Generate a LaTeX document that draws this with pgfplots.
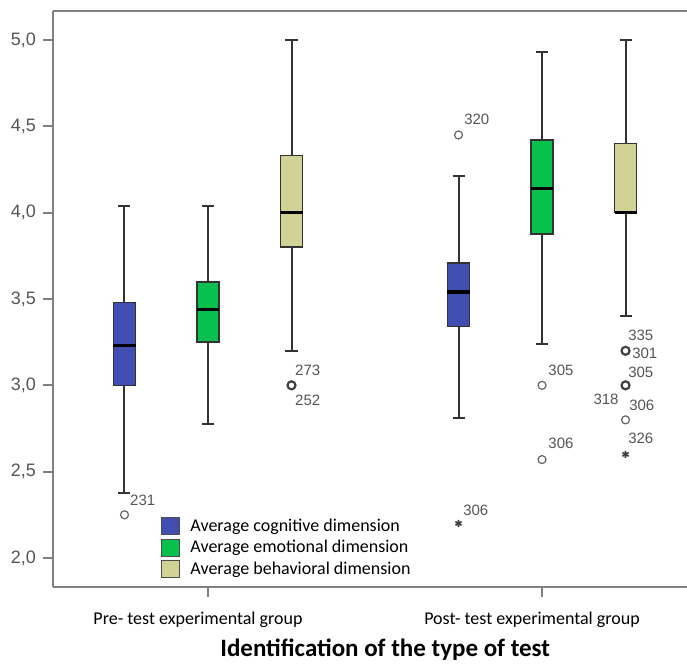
\documentclass[border=0pt]{standalone}
\usepackage{pgfplots}
\pgfplotsset{compat=1.18}
\usepackage{fontspec}
\setmainfont{Carlito}
\newfontfamily\arialf{Liberation Sans}

\definecolor{cogblue}{RGB}{63,78,176}
\definecolor{emogreen}{RGB}{8,192,76}
\definecolor{behtan}{RGB}{211,210,150}
\definecolor{frame}{RGB}{128,128,128}
\definecolor{lbl}{RGB}{85,85,85}

\tikzset{case/.style={font=\arialf\fontsize{7.5}{8}\selectfont, text=lbl, anchor=west, inner sep=0pt}}
\pgfplotsset{
  whisk/.style={draw=black!80, line width=1pt, forget plot, mark=none},
  boxst/.style={draw=black!80, line width=0.8pt, forget plot, mark=none},
  medst/.style={draw=black, line width=1.6pt, forget plot, mark=none},
}
% x, lower whisker, Q1, median, Q3, upper whisker, colour
\newcommand{\spssbox}[7]{%
  \pgfmathsetmacro{\bxl}{#1-0.033}\pgfmathsetmacro{\bxr}{#1+0.033}%
  \pgfmathsetmacro{\cpl}{#1-0.018}\pgfmathsetmacro{\cpr}{#1+0.018}%
  \addplot[whisk] coordinates {(#1,#2) (#1,#6)};
  \addplot[whisk] coordinates {(\cpl,#2) (\cpr,#2)};
  \addplot[whisk] coordinates {(\cpl,#6) (\cpr,#6)};
  \addplot[boxst, fill=#7] coordinates {(\bxl,#3) (\bxr,#3) (\bxr,#5) (\bxl,#5)} -- cycle;
  \addplot[medst] coordinates {(\bxl,#4) (\bxr,#4)};
}

\begin{document}
\begin{tikzpicture}
\begin{axis}[
  scale only axis,
  width=317pt, height=288pt,
  xmin=0.536, xmax=2.434,
  ymin=1.832, ymax=5.168,
  axis x line*=box, axis y line*=left,
  axis line style={draw=frame, line width=1pt},
  tick align=outside,
  major tick length=5pt,
  tick style={draw=frame, line width=1pt},
  xtick={1,2}, xtick pos=bottom,
  xticklabels={Pre- test experimental group, Post- test experimental group},
  xticklabel style={font=\fontsize{9}{10}\selectfont, yshift=-4pt, xshift=-5pt},
  ytick={2,2.5,...,5},
  yticklabel style={/pgf/number format/fixed, /pgf/number format/fixed zerofill, /pgf/number format/precision=1, /pgf/number format/use comma, /pgf/number format/assume math mode=true,
    font=\arialf\fontsize{9}{10}\selectfont, text=lbl},
  legend style={draw=none, fill=none, at={(axis cs:0.84,2.27)}, anchor=north west,
    font=\fontsize{9}{9}\selectfont, row sep=0pt,
    nodes={inner sep=1.5pt}},
  legend cell align=left,
  legend image code/.code={\draw[#1, line width=0.5pt] (0pt,-4pt) rectangle (9pt,4.5pt);
    \path[draw=none, fill=none] (0pt,0pt) -- (13pt,0pt);},
  clip=false,
]
% pre-test
\spssbox{0.75}{2.375}{3.0}{3.23}{3.48}{4.04}{cogblue}
\spssbox{1.0}{2.775}{3.25}{3.44}{3.60}{4.04}{emogreen}
\spssbox{1.25}{3.20}{3.80}{4.0}{4.33}{5.0}{behtan}
% post-test
\spssbox{1.75}{2.81}{3.34}{3.54}{3.71}{4.21}{cogblue}
\spssbox{2.0}{3.24}{3.875}{4.14}{4.42}{4.93}{emogreen}
\spssbox{2.25}{3.40}{4.0}{4.0}{4.40}{5.0}{behtan}

% outliers
\addplot[only marks, mark=o, mark size=2pt, draw=black!60, line width=0.6pt, forget plot]
  coordinates {(0.75,2.25) (1.75,4.45) (2.0,3.0) (2.0,2.57) (2.25,2.80)};
\addplot[only marks, mark=o, mark size=2pt, draw=black!75, line width=1.1pt, forget plot]
  coordinates {(1.25,3.0) (2.25,3.0) (2.25,3.2)};
\addplot[only marks, mark=asterisk, mark size=1.8pt, draw=black!75, line width=0.8pt, forget plot]
  coordinates {(1.75,2.2) (2.25,2.6)};

\node[case] at (axis cs:0.766,2.336) {231};
\node[case] at (axis cs:1.260,3.089) {273};
\node[case] at (axis cs:1.260,2.915) {252};
\node[case] at (axis cs:1.766,4.542) {320};
\node[case] at (axis cs:1.763,2.278) {306};
\node[case] at (axis cs:2.018,3.089) {305};
\node[case] at (axis cs:2.018,2.666) {306};
\node[case] at (axis cs:2.257,3.292) {335};
\node[case] at (axis cs:2.269,3.187) {301};
\node[case] at (axis cs:2.257,3.077) {305};
\node[case] at (axis cs:2.153,2.921) {318};
\node[case] at (axis cs:2.260,2.886) {306};
\node[case] at (axis cs:2.257,2.695) {326};

\node[anchor=base, font=\fontsize{12.5}{14}\selectfont\bfseries, inner sep=0pt, yshift=-35pt]
  at (rel axis cs:0.524,0) {Identification of the type of test};

\addlegendimage{fill=cogblue, draw=black!70}
\addlegendimage{fill=emogreen, draw=black!70}
\addlegendimage{fill=behtan, draw=black!70}
\legend{Average cognitive dimension, Average emotional dimension, Average behavioral dimension}

\coordinate (a) at (rel axis cs:0,0);
\coordinate (b) at (rel axis cs:1,1);
\end{axis}
\pgfresetboundingbox
\path ([shift={(-26.5pt,-38.5pt)}]a) rectangle ([shift={(0pt,5.5pt)}]b);
\end{tikzpicture}
\end{document}
